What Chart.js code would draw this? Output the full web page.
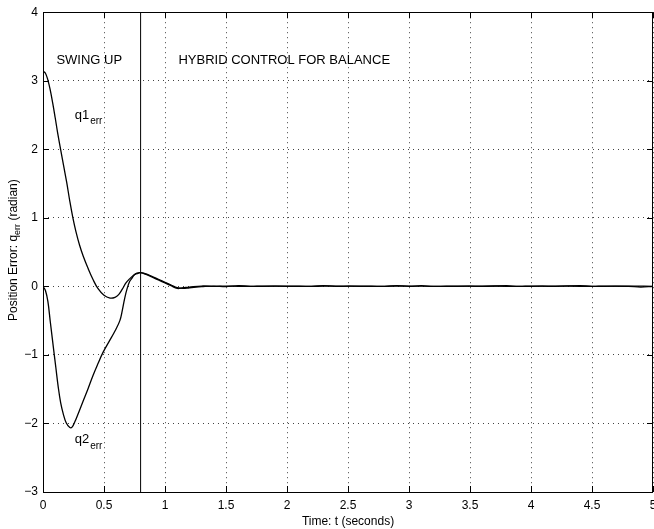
<!DOCTYPE html>
<html>
<head>
<meta charset="utf-8">
<script src="https://cdn.jsdelivr.net/npm/chart.js@4/dist/chart.umd.min.js"></script>
<style>
  html, body { margin: 0; padding: 0; background: #fff; }
  #wrap { width: 654px; height: 529px; }
</style>
</head>
<body>
<div id="wrap"><canvas id="c" width="654" height="529"></canvas></div>
<script>
// Joint position errors during swing-up and balance
const q1Time = [0, 0.02, 0.04, 0.06, 0.08, 0.10, 0.12, 0.145, 0.17, 0.194, 0.22, 0.245, 0.27, 0.30, 0.33, 0.37, 0.41, 0.45, 0.50, 0.55, 0.59, 0.62, 0.65, 0.68, 0.71, 0.74, 0.77, 0.80, 0.85, 0.90, 0.95, 1.00, 1.05, 1.10, 1.15, 1.20, 1.30, 1.40, 1.50, 1.60, 1.70, 1.80, 2.00, 2.20, 2.30, 2.40, 2.60, 2.80, 2.90, 3.00, 3.10, 3.20, 3.40, 3.60, 3.80, 3.90, 4.00, 4.20, 4.40, 4.50, 4.60, 4.80, 4.90, 5.00];
const q1Err  = [3.14, 3.11, 3.01, 2.86, 2.67, 2.46, 2.24, 1.99, 1.75, 1.52, 1.24, 1.00, 0.80, 0.60, 0.44, 0.26, 0.10, -0.03, -0.13, -0.17, -0.16, -0.12, -0.04, 0.05, 0.11, 0.16, 0.195, 0.20, 0.18, 0.14, 0.10, 0.06, 0.02, -0.02, -0.03, -0.02, -0.005, 0.005, -0.005, 0.01, 0.0, 0.005, 0.0, 0.0, 0.012, 0.0, 0.005, 0.0, 0.012, 0.0, 0.01, 0.0, 0.005, 0.0, 0.01, 0.0, 0.005, 0.0, 0.012, 0.0, 0.005, 0.0, -0.01, 0.0];

const q2Time = [0, 0.02, 0.04, 0.06, 0.085, 0.105, 0.125, 0.145, 0.166, 0.19, 0.22, 0.24, 0.26, 0.29, 0.33, 0.37, 0.41, 0.45, 0.49, 0.54, 0.59, 0.63, 0.65, 0.67, 0.69, 0.71, 0.73, 0.75, 0.78, 0.80, 0.85, 0.90, 0.95, 1.00, 1.05, 1.10, 1.15, 1.20, 1.30, 1.40, 1.50, 1.60, 1.80, 2.00, 2.20, 2.40, 2.60, 2.80, 3.00, 3.20, 3.40, 3.60, 3.80, 4.00, 4.20, 4.40, 4.60, 4.80, 5.00];
const q2Err  = [0, -0.06, -0.22, -0.52, -0.89, -1.18, -1.47, -1.70, -1.86, -1.99, -2.06, -2.05, -1.98, -1.85, -1.67, -1.49, -1.30, -1.13, -0.97, -0.81, -0.65, -0.50, -0.35, -0.17, -0.03, 0.07, 0.12, 0.17, 0.19, 0.20, 0.17, 0.13, 0.09, 0.05, 0.01, -0.03, -0.02, -0.01, 0.005, 0.0, 0.005, 0.0, 0.0, 0.005, 0.0, 0.005, 0.0, 0.0, 0.005, 0.0, 0.0, 0.005, 0.0, 0.0, 0.005, 0.0, 0.0, 0.005, 0.0];

// controller switches from swing-up to hybrid balance control
const switchTime = 0.8;

const xTicks = [0, 0.5, 1, 1.5, 2, 2.5, 3, 3.5, 4, 4.5, 5];
const yTicks = [-3, -2, -1, 0, 1, 2, 3, 4];

// text placed in data coordinates: [text, subscript, x, y]
const notes = [
  ['SWING UP', '', 0.11, 3.30],
  ['HYBRID CONTROL FOR BALANCE', '', 1.11, 3.30],
  ['q1', 'err', 0.26, 2.50],
  ['q2', 'err', 0.26, -2.24]
];

const FONT = '"Liberation Sans", Arial, Helvetica, sans-serif';
const pts = (xs, ys) => xs.map((x, i) => ({ x: x, y: ys[i] }));

const frameAndTicks = {
  id: 'frameAndTicks',
  afterDraw(chart) {
    const { ctx, chartArea: a, scales } = chart;
    const xs = scales.x, ys = scales.y;
    ctx.save();
    ctx.strokeStyle = '#000';
    ctx.lineWidth = 1;
    // inward tick marks on all four sides
    ctx.beginPath();
    xTicks.forEach(v => {
      const px = Math.round(xs.getPixelForValue(v)) + 0.5;
      ctx.moveTo(px, a.bottom); ctx.lineTo(px, a.bottom - 6);
      ctx.moveTo(px, a.top); ctx.lineTo(px, a.top + 6);
    });
    yTicks.forEach(v => {
      const py = Math.round(ys.getPixelForValue(v)) + 0.5;
      ctx.moveTo(a.left, py); ctx.lineTo(a.left + 6, py);
      ctx.moveTo(a.right, py); ctx.lineTo(a.right - 6, py);
    });
    ctx.stroke();
    // box
    ctx.strokeRect(Math.round(a.left) + 0.5, Math.round(a.top) + 0.5,
                   Math.round(a.right - a.left) - 1, Math.round(a.bottom - a.top));

    // annotations
    ctx.fillStyle = '#000';
    ctx.textBaseline = 'middle';
    ctx.textAlign = 'left';
    notes.forEach(([t, sub, x, y]) => {
      const px = xs.getPixelForValue(x), py = ys.getPixelForValue(y);
      ctx.font = '13px ' + FONT;
      ctx.fillText(t, px, py);
      if (sub) {
        const w = ctx.measureText(t).width;
        ctx.font = '10px ' + FONT;
        ctx.fillText(sub, px + w + 1, py + 6);
      }
    });

    // y axis title with subscript, rotated
    const cy = (a.top + a.bottom) / 2 - 2;
    ctx.translate(14, cy);
    ctx.rotate(-Math.PI / 2);
    const parts = [['Position Error: q', 12, 0], ['err', 9, 4], [' (radian)', 12, 0]];
    let total = 0;
    parts.forEach(([s, f]) => { ctx.font = f + 'px ' + FONT; total += ctx.measureText(s).width; });
    let cx = -total / 2;
    parts.forEach(([s, f, dy]) => {
      ctx.font = f + 'px ' + FONT;
      ctx.fillText(s, cx, dy);
      cx += ctx.measureText(s).width;
    });
    ctx.restore();
  }
};

new Chart(document.getElementById('c'), {
  type: 'line',
  data: {
    datasets: [
      { data: pts(q1Time, q1Err), borderColor: '#000', borderWidth: 1.3, pointRadius: 0, tension: 0.4, fill: false },
      { data: pts(q2Time, q2Err), borderColor: '#000', borderWidth: 1.3, pointRadius: 0, tension: 0.4, fill: false },
      { data: [{ x: switchTime, y: -3 }, { x: switchTime, y: 4 }], borderColor: '#000', borderWidth: 1, pointRadius: 0, fill: false }
    ]
  },
  options: {
    responsive: false,
    animation: false,
    events: [],
    layout: { padding: { top: 9, right: 1, left: 0, bottom: 0 } },
    plugins: { legend: { display: false }, tooltip: { enabled: false } },
    scales: {
      x: {
        type: 'linear', min: 0, max: 5,
        afterBuildTicks: s => { s.ticks = xTicks.map(v => ({ value: v })); },
        afterFit: s => { s.height = 37; s.paddingRight = 0; s.paddingLeft = 0; },
        grid: { color: '#444', lineWidth: 1, drawTicks: false },
        border: { display: false, dash: [1, 4] },
        ticks: { color: '#000', padding: 6, font: { family: FONT, size: 12 }, maxRotation: 0,
                 callback: v => String(v) },
        title: { display: true, text: 'Time: t (seconds)', color: '#000', padding: { top: 2, bottom: 0 },
                 font: { family: FONT, size: 12 } }
      },
      y: {
        min: -3, max: 4,
        afterBuildTicks: s => { s.ticks = yTicks.map(v => ({ value: v })); },
        afterFit: s => { s.width = 43; },
        grid: { color: '#444', lineWidth: 1, drawTicks: false },
        border: { display: false, dash: [1, 4] },
        ticks: { color: '#000', padding: 5, font: { family: FONT, size: 12 },
                 callback: v => (v < 0 ? '\u2212' + Math.abs(v) : String(v)) }
      }
    }
  },
  plugins: [frameAndTicks]
});
</script>
</body>
</html>
